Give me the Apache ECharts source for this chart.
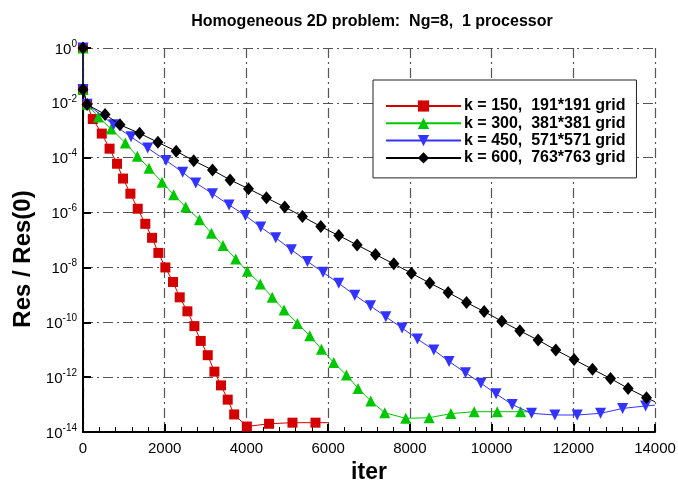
<!DOCTYPE html>
<html>
<head>
<meta charset="utf-8">
<script src="https://cdn.jsdelivr.net/npm/echarts@6/dist/echarts.min.js"></script>
<style>
  html, body { margin: 0; padding: 0; background: #fff; }
  #chart { width: 678px; height: 484px; }
</style>
</head>
<body>
<div id="chart"></div>
<script>
// iterations and log10(Res/Res(0))
// the last point of every curve carries no marker
const redIter = [0, 0, 100, 240, 460, 650, 833, 980, 1160, 1340, 1525, 1690, 1845, 2016, 2203, 2367, 2555, 2726, 2881, 3053, 3216, 3378, 3542, 3700, 4010, 4554, 5127, 5690, 6000];
const redLog = [0, -1.51, -2.05, -2.59, -3.12, -3.67, -4.22, -4.76, -5.31, -5.86, -6.41, -6.92, -7.47, -8.0, -8.53, -9.09, -9.60, -10.14, -10.68, -11.2, -11.8, -12.3, -12.82, -13.36, -13.80, -13.70, -13.66, -13.66, -13.66];

const greenIter = [0, 0, 100, 377, 690, 1037, 1331, 1616, 1934, 2220, 2514, 2850, 3143, 3427, 3738, 4024, 4340, 4630, 4921, 5249, 5550, 5836, 6137, 6448, 6732, 7043, 7386, 7900, 8471, 9004, 9575, 10139, 10710, 10980];
const greenLog = [0, -1.51, -2.05, -2.52, -2.95, -3.46, -3.95, -4.38, -4.89, -5.35, -5.80, -6.26, -6.75, -7.20, -7.69, -8.14, -8.60, -9.09, -9.55, -10.04, -10.49, -10.98, -11.47, -11.92, -12.41, -12.87, -13.30, -13.50, -13.48, -13.33, -13.26, -13.26, -13.26, -13.27];

const blueIter = [0, 0, 100, 750, 1175, 1584, 2032, 2440, 2759, 3167, 3575, 3975, 4350, 4717, 5100, 5493, 5876, 6260, 6652, 7036, 7411, 7810, 8186, 8586, 8960, 9362, 9740, 10110, 10505, 10979, 11550, 12096, 12668, 13207, 13771, 14000];
const blueLog = [0, -1.51, -2.05, -2.80, -3.24, -3.65, -4.10, -4.53, -4.92, -5.31, -5.72, -6.11, -6.53, -6.92, -7.36, -7.78, -8.18, -8.58, -9.01, -9.40, -9.80, -10.21, -10.61, -11.01, -11.43, -11.84, -12.22, -12.61, -13.00, -13.32, -13.38, -13.38, -13.32, -13.14, -13.05, -13.02];

const blackIter = [0, 0, 100, 540, 905, 1385, 1833, 2280, 2710, 3170, 3600, 4050, 4490, 4938, 5371, 5820, 6260, 6709, 7159, 7607, 8039, 8488, 8937, 9387, 9818, 10250, 10691, 11139, 11572, 12020, 12470, 12911, 13342, 13792, 14000];
const blackLog = [0, -1.51, -2.06, -2.42, -2.80, -3.11, -3.44, -3.76, -4.11, -4.45, -4.81, -5.13, -5.46, -5.80, -6.14, -6.51, -6.84, -7.18, -7.53, -7.87, -8.21, -8.57, -8.91, -9.28, -9.61, -9.96, -10.31, -10.65, -11.01, -11.36, -11.71, -12.05, -12.41, -12.75, -12.90];

const names = ['k = 150,  191*191 grid', 'k = 300,  381*381 grid', 'k = 450,  571*571 grid', 'k = 600,  763*763 grid'];

const font = 'Liberation Sans, Arial, Helvetica, sans-serif';
const gridDash = [10, 4, 2, 4];

function pts(xs, ys) {
  return xs.map((x, i) => {
    if (i === xs.length - 1) return { value: [x, ys[i]], symbol: 'none' };
    return [x, ys[i]];
  });
}

function curve(name, xs, ys, color, symbol, size, rotate, z) {
  return {
    name: name,
    type: 'line',
    data: pts(xs, ys),
    symbol: symbol,
    symbolSize: size,
    symbolRotate: rotate,
    showAllSymbol: true,
    clip: false,
    z: z,
    lineStyle: { color: color, width: 1 },
    itemStyle: { color: color, borderWidth: 0 },
    emphasis: { disabled: true },
    animation: false
  };
}

const myChart = echarts.init(document.getElementById('chart'));
myChart.setOption({
  backgroundColor: '#fff',
  title: {
    text: 'Homogeneous 2D problem:  Ng=8,  1 processor',
    left: 367,
    textAlign: 'center',
    top: 9,
    textStyle: { fontFamily: font, fontSize: 16, fontWeight: 'bold', color: '#000' }
  },
  grid: { left: 83, right: 23, top: 48, bottom: 52, outerBoundsMode: 'none' },
  legend: {
    orient: 'vertical',
    left: 373,
    top: 80,
    padding: [18, 11, 12, 12],
    itemWidth: 75,
    itemHeight: 14,
    itemGap: 1.3,
    backgroundColor: '#fff',
    borderColor: '#222',
    borderWidth: 1,
    textStyle: { fontFamily: font, fontSize: 16, fontWeight: 'bold', color: '#000', padding: [0, 0, 0, -2] },
    data: names
  },
  xAxis: {
    type: 'value',
    min: 0,
    max: 14000,
    interval: 2000,
    name: 'iter',
    nameLocation: 'middle',
    nameGap: 27,
    nameTextStyle: { fontFamily: font, fontSize: 23, fontWeight: 'bold', color: '#000' },
    axisLine: { show: true, onZero: false, lineStyle: { color: '#000', width: 2 } },
    axisTick: { show: true, inside: true, length: 8, lineStyle: { color: '#000', width: 2 } },
    minorTick: { show: true, splitNumber: 5, length: 5, lineStyle: { color: '#000', width: 1 } },
    axisLabel: { fontFamily: font, fontSize: 15, color: '#000', margin: 9, formatter: (v) => String(v) },
    splitLine: { show: true, lineStyle: { color: '#555', width: 1.2, type: gridDash } }
  },
  yAxis: {
    type: 'value',
    min: -14,
    max: 0,
    interval: 2,
    axisLine: { show: true, onZero: false, lineStyle: { color: '#000', width: 2 } },
    axisTick: { show: true, inside: true, length: 8, lineStyle: { color: '#000', width: 2 } },
    axisLabel: {
      margin: 6,
      formatter: (v) => '{b|10}{s|' + v + '}',
      rich: {
        b: { fontFamily: font, fontSize: 15, color: '#000', lineHeight: 18, verticalAlign: 'bottom' },
        s: { fontFamily: font, fontSize: 10, color: '#000', lineHeight: 10, verticalAlign: 'top' }
      }
    },
    splitLine: { show: true, lineStyle: { color: '#555', width: 1.2, type: gridDash } }
  },
  graphic: [{
    type: 'text',
    x: 23,
    y: 259,
    rotation: Math.PI / 2,
    style: {
      text: 'Res / Res(0)',
      fontFamily: font,
      fontSize: 24,
      fontWeight: 'bold',
      fill: '#000',
      align: 'center',
      verticalAlign: 'middle'
    }
  }],
  series: [
    curve(names[0], redIter, redLog, '#d40000', 'rect', 10, 0, 2),
    curve(names[1], greenIter, greenLog, '#00c800', 'triangle', 11, 0, 3),
    curve(names[2], blueIter, blueLog, '#3333ff', 'triangle', 11, 180, 4),
    curve(names[3], blackIter, blackLog, '#000000', 'diamond', [11, 13], 0, 5)
  ]
});
</script>
</body>
</html>
